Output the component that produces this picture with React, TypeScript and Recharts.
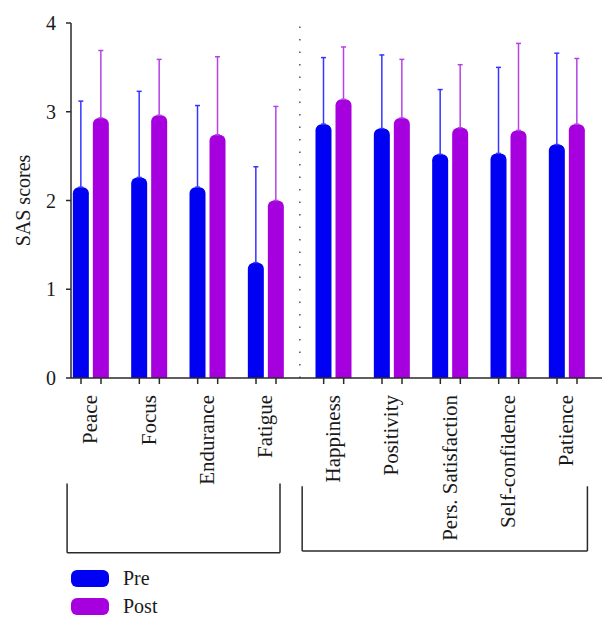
import { BarChart, Bar, XAxis, YAxis, ErrorBar, ReferenceLine } from "recharts";

// SAS subscales, split into two groups on the x axis
const categories = [
  "Peace",
  "Focus",
  "Endurance",
  "Fatigue",
  "Happiness",
  "Positivity",
  "Pers. Satisfaction",
  "Self-confidence",
  "Patience",
];
const groupOf = [0, 0, 0, 0, 1, 1, 1, 1, 1];

const preMeans = [2.15, 2.26, 2.15, 1.3, 2.86, 2.81, 2.52, 2.53, 2.63];
const preSD = [0.97, 0.97, 0.92, 1.08, 0.75, 0.83, 0.73, 0.97, 1.03];
const postMeans = [2.93, 2.96, 2.74, 2.0, 3.14, 2.93, 2.82, 2.79, 2.86];
const postSD = [0.76, 0.63, 0.88, 1.06, 0.59, 0.66, 0.71, 0.98, 0.74];

const yTicks = [0, 1, 2, 3, 4];
const seriesNames = ["Pre", "Post"];

const PRE_COLOR = "#0000f2";
const POST_COLOR = "#a600df";
const PRE_ERR = "#3535ff";
const POST_ERR = "#b443e6";
const AXIS = "#2a2a2a";
const TEXT = "#1a1a1a";
const FONT = "Times New Roman, Liberation Serif, Tinos, serif";

const GROUP_GAP = 0.16;
const BAR_SIZE = 16;
const BAR_GAP = 4;

// bracket extents below the labels, in axis units
const brackets = [
  { from: -0.41, to: 3.24, top: -1.19, bottom: -1.97 },
  { from: 3.62, to: 8.51, top: -1.22, bottom: -1.95 },
];

const positions = categories.map((_, i) => i + groupOf[i] * GROUP_GAP);
const dividerX = (positions[3] + positions[4]) / 2;

const data = categories.map((name, i) => ({
  name,
  pos: positions[i],
  pre: preMeans[i],
  preErr: [0, preSD[i]],
  post: postMeans[i],
  postErr: [0, postSD[i]],
}));

function CategoryTick(props: any) {
  const { x, y, index } = props;
  const off = (BAR_SIZE + BAR_GAP) / 2;
  const ty = y + 17;
  return (
    <g>
      <line x1={x - off} x2={x - off} y1={y} y2={y + 6} stroke={AXIS} strokeWidth={1.5} />
      <line x1={x + off} x2={x + off} y1={y} y2={y + 6} stroke={AXIS} strokeWidth={1.5} />
      <text
        x={x}
        y={ty}
        dy="0.3em"
        transform={`rotate(-90 ${x} ${ty})`}
        textAnchor="end"
        style={{ fontSize: 21, fontFamily: FONT, fill: TEXT }}
      >
        {categories[index]}
      </text>
    </g>
  );
}

export default function App() {
  const bracketLine = { stroke: AXIS, strokeWidth: 1.5, ifOverflow: "visible" as const };
  return (
    <div style={{ position: "relative", width: 616, height: 629, background: "#fff", fontFamily: FONT }}>
      <style>{"body{margin:0}"}</style>
      <BarChart
        width={616}
        height={629}
        data={data}
        barGap={BAR_GAP}
        margin={{ top: 23, right: 14, bottom: 0, left: 0 }}
      >
        <XAxis
          dataKey="pos"
          type="number"
          domain={[-0.343, 8.76]}
          allowDataOverflow
          ticks={positions}
          interval={0}
          height={251}
          tickSize={0}
          tickMargin={0}
          tickLine={false}
          axisLine={{ stroke: AXIS, strokeWidth: 1.5 }}
          tick={<CategoryTick />}
        />
        <YAxis
          domain={[0, 4]}
          ticks={yTicks}
          allowDataOverflow
          width={71}
          tickSize={5}
          tickMargin={10}
          axisLine={{ stroke: AXIS, strokeWidth: 1.5 }}
          tickLine={{ stroke: AXIS, strokeWidth: 1.5 }}
          tick={{ fontSize: 20, fontFamily: FONT, fill: TEXT }}
          label={{
            value: "SAS scores",
            angle: -90,
            position: "insideLeft",
            offset: 23,
            style: { textAnchor: "middle", fontSize: 20, fontFamily: FONT, fill: TEXT },
          }}
        />
        <ReferenceLine x={dividerX} stroke="#555" strokeWidth={1.5} strokeDasharray="1.5 11" />
        {brackets.map((b, i) => (
          <ReferenceLine
            key={`bl-${i}`}
            segment={[{ x: b.from, y: b.top }, { x: b.from, y: b.bottom }]}
            {...bracketLine}
          />
        ))}
        {brackets.map((b, i) => (
          <ReferenceLine
            key={`bb-${i}`}
            segment={[{ x: b.from, y: b.bottom }, { x: b.to, y: b.bottom }]}
            {...bracketLine}
          />
        ))}
        {brackets.map((b, i) => (
          <ReferenceLine
            key={`br-${i}`}
            segment={[{ x: b.to, y: b.top }, { x: b.to, y: b.bottom }]}
            {...bracketLine}
          />
        ))}
        <Bar dataKey="pre" name={seriesNames[0]} fill={PRE_COLOR} barSize={BAR_SIZE} radius={[6, 6, 0, 0]} isAnimationActive={false}>
          <ErrorBar dataKey="preErr" width={2.5} stroke={PRE_ERR} strokeWidth={1.5} isAnimationActive={false} />
        </Bar>
        <Bar dataKey="post" name={seriesNames[1]} fill={POST_COLOR} barSize={BAR_SIZE} radius={[6, 6, 0, 0]} isAnimationActive={false}>
          <ErrorBar dataKey="postErr" width={2.5} stroke={POST_ERR} strokeWidth={1.5} isAnimationActive={false} />
        </Bar>
      </BarChart>
      <div style={{ position: "absolute", left: 71, top: 570, fontSize: 20, color: TEXT }}>
        {seriesNames.map((s, i) => (
          <div key={s} style={{ display: "flex", alignItems: "center", height: 17, marginBottom: 11 }}>
            <span
              style={{
                display: "inline-block",
                width: 38,
                height: 17,
                borderRadius: 6,
                background: i === 0 ? PRE_COLOR : POST_COLOR,
                marginRight: 14,
              }}
            />
            <span>{s}</span>
          </div>
        ))}
      </div>
    </div>
  );
}
